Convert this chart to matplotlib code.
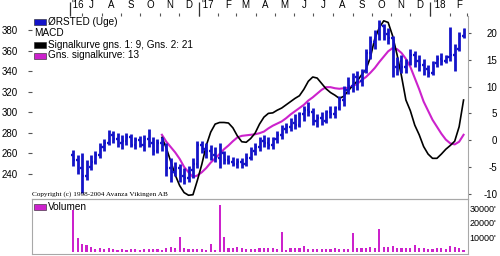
import numpy as np
import pandas as pd
import matplotlib
matplotlib.use('Agg')
import matplotlib.pyplot as plt
import matplotlib.dates as mdates
from matplotlib.patches import Rectangle

plt.rcParams['font.family'] = ['Liberation Sans Narrow', 'Liberation Sans', 'DejaVu Sans']
plt.rcParams['font.size'] = 7
plt.rcParams['axes.unicode_minus'] = False

BLUE = '#1414c8'
MAG = '#cc22cc'
GRAY = '#a8a8a8'

# weekly bars, ORSTED (Uge)
weeks = pd.date_range('2016-06-17', periods=89, freq='7D')

open_ = [258, 254, 246, 238, 247, 252, 258, 266, 270, 278,
         274, 270, 272, 276, 268, 273, 268, 274, 270, 262,
         270, 268, 246, 242, 246, 238, 236, 244, 250, 268,
         264, 262, 258, 256, 260, 254, 252, 250, 252, 250,
         256, 262, 266, 272, 270, 268, 274, 278, 284, 286,
         290, 288, 298, 302, 300, 292, 294, 292, 300, 298,
         304, 312, 322, 326, 334, 330, 340, 358, 368, 376,
         384, 376, 372, 344, 350, 344, 348, 356, 350, 346,
         342, 338, 348, 352, 350, 354, 356, 362, 374]
high = [263, 258, 260, 254, 258, 262, 270, 274, 283, 282,
        280, 278, 280, 279, 276, 277, 278, 284, 276, 274,
        276, 270, 256, 252, 250, 246, 248, 256, 272, 272,
        270, 268, 266, 270, 262, 258, 257, 256, 256, 260,
        266, 270, 276, 278, 276, 276, 282, 288, 290, 294,
        298, 300, 306, 310, 304, 298, 300, 302, 306, 306,
        316, 326, 334, 338, 340, 342, 362, 374, 380, 390,
        386, 382, 374, 354, 356, 352, 362, 360, 356, 352,
        346, 350, 356, 358, 356, 383, 366, 378, 382]
low = [248, 240, 222, 234, 244, 250, 256, 262, 268, 270,
       266, 264, 268, 266, 264, 266, 262, 266, 258, 260,
       262, 238, 232, 238, 232, 230, 232, 236, 246, 260,
       256, 254, 252, 246, 250, 250, 248, 246, 246, 248,
       254, 258, 262, 266, 264, 264, 270, 274, 280, 282,
       284, 286, 292, 296, 288, 286, 288, 290, 294, 294,
       302, 306, 318, 320, 322, 326, 338, 352, 362, 370,
       370, 366, 334, 336, 338, 338, 346, 344, 340, 336,
       334, 336, 344, 346, 348, 350, 340, 360, 372]
close = [254, 246, 238, 247, 252, 258, 266, 270, 278, 274,
         270, 272, 276, 268, 273, 268, 274, 270, 262, 270,
         268, 246, 242, 246, 238, 236, 244, 250, 268, 264,
         262, 258, 256, 260, 254, 252, 250, 252, 250, 256,
         262, 266, 272, 270, 268, 274, 278, 284, 286, 290,
         288, 298, 302, 300, 292, 294, 292, 300, 298, 304,
         312, 322, 326, 334, 330, 340, 358, 368, 376, 384,
         376, 372, 344, 350, 344, 348, 356, 350, 346, 342,
         338, 348, 352, 350, 354, 356, 362, 374, 380]

# MACD (black) and its signal curve (magenta), from week 20 on
macd = [np.nan] * 20 + [
    0.5, -1.5, -4.0, -6.5, -8.5, -9.8, -10.3, -10.2, -7.5, -4.5,
    -1.0, 1.5, 3.0, 3.3, 3.3, 3.2, 2.3, 0.8, -0.3, -0.4,
    0.3, 1.3, 3.0, 4.3, 5.0, 5.1, 5.6, 6.0, 6.6, 7.2,
    7.8, 8.3, 9.5, 11.0, 11.8, 11.6, 10.6, 9.6, 8.9, 8.4,
    7.8, 8.2, 9.2, 10.2, 11.0, 12.2, 13.2, 15.5, 19.0, 21.0,
    22.3, 22.0, 19.5, 16.0, 12.0, 7.5, 5.5, 2.8, 1.0, -1.2,
    -2.6, -3.4, -3.4, -2.6, -1.7, -1.0, -0.2, 2.5, 7.5]
signal = [np.nan] * 20 + [
    1.0, -0.3, -1.3, -2.3, -3.5, -5.0, -6.0, -6.9, -6.6, -6.0,
    -5.2, -4.2, -3.4, -2.6, -1.7, -1.0, -0.2, 0.5, 0.8, 0.9,
    1.0, 1.1, 1.3, 1.6, 2.2, 2.7, 3.1, 3.5, 4.1, 4.8,
    5.4, 6.0, 6.6, 7.4, 8.0, 8.7, 9.4, 9.9, 9.9, 9.7,
    9.6, 9.7, 9.8, 10.1, 10.5, 11.2, 11.8, 12.6, 13.5, 14.6,
    15.6, 16.6, 17.2, 17.0, 16.3, 15.2, 13.7, 11.6, 9.5, 7.2,
    5.5, 3.8, 2.5, 1.2, 0.1, -0.6, -0.8, -0.3, 1.0]

volume = [28700, 9200, 5300, 4600, 3400, 1600, 2300, 1800, 2700, 1600,
          1400, 1600, 1400, 1600, 1800, 1400, 1600, 1800, 1800, 1600,
          1400, 2300, 3000, 2300, 10300, 2300, 2100, 1800, 1600, 2100,
          1400, 5300, 1400, 32000, 9900, 2500, 2500, 3200, 2300, 2100,
          1800, 1600, 2300, 2500, 2300, 2300, 1600, 13800, 1400, 2300,
          2300, 2300, 3900, 2100, 1800, 1800, 1800, 1800, 1800, 2300,
          1800, 1800, 1600, 12600, 2300, 2300, 2500, 3000, 2300, 15400,
          3000, 3200, 4100, 2700, 2300, 2700, 2300, 4400, 2700, 2700,
          1600, 1600, 2300, 2700, 2100, 3900, 3400, 2700, 1400]

price_ticks = [240, 260, 280, 300, 320, 340, 360, 380]
macd_ticks = [-10, -5, 0, 5, 10, 15, 20]
vol_ticks = [10000, 20000, 30000]
month_labels = ["'16", 'J', 'A', 'S', 'O', 'N', 'D', "'17", 'F', 'M', 'A',
                'M', 'J', 'J', 'A', 'S', 'O', 'N', 'D', "'18", 'F']

fig = plt.figure(figsize=(5, 2.56), dpi=100)
W, H = 500, 256


def fx(x):
    return x / W


def fy(y):
    return 1 - y / H


ax = fig.add_axes([fx(32), fy(199), fx(468) - fx(32), fy(16) - fy(199)])
ax2 = ax.twinx()
axv = fig.add_axes([fx(32), fy(254), fx(468) - fx(32), fy(199) - fy(254)], sharex=ax)

d = mdates.date2num(weeks)

# MACD lines (below the price bars)
ax2.plot(d, signal, color=MAG, lw=1.5)
ax2.plot(d, macd, color='black', lw=1.2)
ax2.set_ylim(-11.0, 23.2)
ax.set_zorder(ax2.get_zorder() + 1)
ax.patch.set_visible(False)

# OHLC bars
ax.vlines(d, low, high, color=BLUE, lw=2.0)
ax.hlines(open_, d - 2.8, d, color=BLUE, lw=1.7)
ax.hlines(close, d, d + 2.8, color=BLUE, lw=1.7)
ax.set_ylim(215.7, 393.6)
ax.set_xlim(mdates.date2num(pd.Timestamp('2016-04-13')),
            mdates.date2num(pd.Timestamp('2018-03-02')))

# volume
axv.bar(d, volume, width=3.4, color=MAG)
axv.set_ylim(-1600, 36200)

# spines
for s in ['top', 'left', 'right']:
    ax.spines[s].set_visible(False)
ax.spines['bottom'].set_color(GRAY)
for s in ['top', 'left', 'bottom']:
    ax2.spines[s].set_visible(False)
ax2.spines['right'].set_color(GRAY)
for s in axv.spines.values():
    s.set_color(GRAY)

# left price axis
ax.set_yticks(price_ticks)
ax.tick_params(axis='y', left=True, length=3, width=0.8, color='#555555', pad=7)

# right MACD axis, labels right-aligned at the picture edge
ax2.set_yticks(macd_ticks)
ax2.tick_params(axis='y', length=2.5, width=0.8, color='#555555', pad=18.5)
for t in ax2.get_yticklabels():
    t.set_ha('right')

# top month axis
month_starts = pd.date_range('2016-07-01', '2018-03-01', freq='MS')
label_pos = [mdates.date2num(pd.Timestamp('2016-06-25'))] + \
    list(mdates.date2num(pd.date_range('2016-07-01', '2018-02-01', freq='MS') + pd.Timedelta(days=15)))
ax.xaxis.tick_top()
ax.set_xticks(label_pos)
ax.set_xticklabels(month_labels)
ax.tick_params(axis='x', which='major', length=0, pad=4, top=True, bottom=False)
ax.set_xticks(mdates.date2num(month_starts), minor=True)
ax.tick_params(axis='x', which='minor', length=2.5, width=0.8, color='#555555', top=True, bottom=False)
year_marks = mdates.date2num(pd.to_datetime(['2016-06-12', '2017-01-01', '2018-01-01']))
ax.vlines(year_marks, 1.0, 1.075, transform=ax.get_xaxis_transform(), clip_on=False,
          color='#333333', lw=0.9)

# volume axis
axv.yaxis.tick_right()
axv.set_yticks(vol_ticks)
axv.set_yticklabels([f"{v}'" for v in vol_ticks])
axv.tick_params(axis='y', length=0, pad=1, labelsize=6.5)
axv.tick_params(axis='x', which='both', bottom=False, top=False, labelbottom=False, labeltop=False)

# legend rows
rows = [(22, BLUE, 'ØRSTED (Uge)'), (33.5, None, 'MACD'),
        (44.5, 'black', 'Signalkurve gns. 1: 9, Gns. 2: 21'),
        (55.5, MAG, 'Gns. signalkurve: 13'), (206.5, MAG, 'Volumen')]
for y, c, txt in rows:
    if c is None:
        fig.text(fx(34), fy(y), txt, va='center', ha='left', fontsize=7.2)
        continue
    fig.add_artist(Rectangle((fx(34), fy(y + 3)), fx(12), 6 / H, transform=fig.transFigure,
                             facecolor=c, edgecolor='#222222', lw=0.4))
    fig.text(fx(48), fy(y), txt, va='center', ha='left', fontsize=7.2)

fig.text(fx(32), fy(194), 'Copyright (c) 1998-2004 Avanza Vikingen AB', va='center', ha='left',
         fontsize=5.2, family=['Liberation Serif', 'DejaVu Serif'])

fig.savefig('out.png', dpi=100)
